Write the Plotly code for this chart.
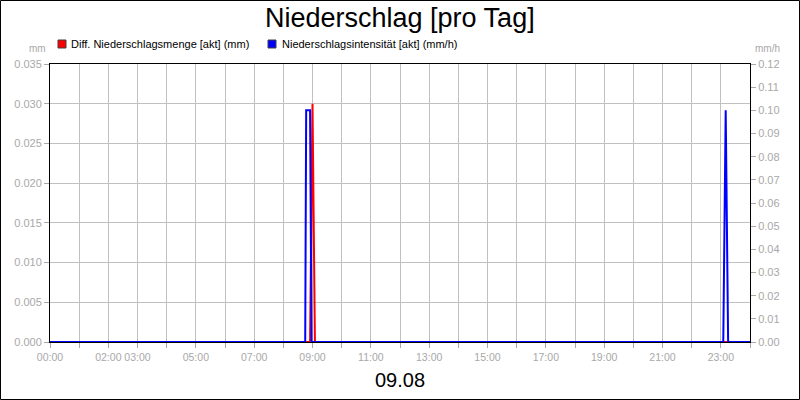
import plotly.graph_objects as go

# Diff. Niederschlagsmenge (mm), left axis
red_times = ["00:00", "08:55", "09:00", "09:05", "24:00"]
red_values = [0, 0, 0.030, 0, 0]

# Niederschlagsintensitaet (mm/h), right axis
blue_times = ["00:00", "08:45", "08:47", "08:55", "08:58", "23:05", "23:10", "23:15", "24:00"]
blue_values = [0, 0, 0.10, 0.10, 0, 0, 0.10, 0, 0]

hour_ticks = list(range(25))
hour_labels = ["00:00", "", "02:00", "03:00", "", "05:00", "", "07:00", "", "09:00", "",
               "11:00", "", "13:00", "", "15:00", "", "17:00", "", "19:00", "", "21:00",
               "", "23:00", ""]

left_ticks = [0, 0.005, 0.010, 0.015, 0.020, 0.025, 0.030, 0.035]
right_ticks = [0, 0.01, 0.02, 0.03, 0.04, 0.05, 0.06, 0.07, 0.08, 0.09, 0.10, 0.11, 0.12]


def to_hours(t):
    h, m = t.split(":")
    return int(h) + int(m) / 60


grey = "#a8a8a8"
font = "Liberation Sans, Arial, sans-serif"

fig = go.Figure()
fig.add_trace(go.Scatter(x=[to_hours(t) for t in blue_times], y=blue_values, yaxis="y2",
                         mode="lines", line=dict(color="#0000ff", width=2),
                         name="Niederschlagsintensität [akt] (mm/h)"))
fig.add_trace(go.Scatter(x=[to_hours(t) for t in red_times], y=red_values,
                         mode="lines", line=dict(color="#ff0000", width=2),
                         name="Diff. Niederschlagsmenge [akt] (mm)"))

fig.update_layout(
    width=800, height=400,
    margin=dict(l=50, r=50, t=64, b=58, autoexpand=False),
    paper_bgcolor="white", plot_bgcolor="white",
    showlegend=False,
    font=dict(family=font, size=11, color=grey),
    xaxis=dict(range=[0, 24], tickvals=hour_ticks, ticktext=hour_labels, tickangle=0,
               automargin=False,
               showgrid=True, gridcolor="#c0c0c0", gridwidth=1,
               showline=True, linecolor="black", linewidth=1, mirror=True,
               ticks="outside", ticklen=5, tickcolor=grey, zeroline=False,
               tickfont=dict(size=10.5, color=grey)),
    yaxis=dict(range=[0, 0.035], tickvals=left_ticks, tickformat=".3f", automargin=False,
               showgrid=True, gridcolor="#c0c0c0", gridwidth=1,
               showline=True, linecolor="black", linewidth=1, mirror=True,
               ticks="outside", ticklen=5, tickcolor=grey, zeroline=False,
               tickfont=dict(size=11, color=grey)),
    yaxis2=dict(range=[0, 0.12], tickvals=right_ticks, tickformat=".2f", automargin=False,
                overlaying="y", side="right", showgrid=False, zeroline=False,
                showline=True, linecolor="black", linewidth=1,
                ticks="outside", ticklen=5, tickcolor=grey,
                tickfont=dict(size=11, color=grey)),
)

px = 1 / 700
py = 1 / 278
annotations = [
    dict(text="Niederschlag [pro Tag]", x=0.5, y=1 + 46 * py, xanchor="center", yanchor="middle",
         font=dict(size=27, color="black", family=font)),
    dict(text="09.08", x=0.5, y=-38 * py, xanchor="center", yanchor="middle",
         font=dict(size=20, color="black", family=font)),
    dict(text="mm", x=-2 * px, y=1 + 15 * py, xanchor="right", yanchor="middle",
         font=dict(size=10, color=grey, family=font)),
    dict(text="mm/h", x=1 + 3 * px, y=1 + 15 * py, xanchor="left", yanchor="middle",
         font=dict(size=10, color=grey, family=font)),
    dict(text="Diff. Niederschlagsmenge [akt] (mm)", x=19 * px, y=1 + 20 * py,
         xanchor="left", yanchor="middle", font=dict(size=11, color="black", family=font)),
    dict(text="Niederschlagsintensität [akt] (mm/h)", x=230 * px, y=1 + 20 * py,
         xanchor="left", yanchor="middle", font=dict(size=11, color="black", family=font)),
]
for a in annotations:
    a.update(xref="paper", yref="paper", showarrow=False)
fig.update_layout(annotations=annotations)

# legend squares
fig.add_shape(type="rect", xref="paper", yref="paper", x0=8 * px, x1=16 * px,
              y0=1 + 16 * py, y1=1 + 24 * py, fillcolor="#ff0000", line=dict(color="#404040", width=1))
fig.add_shape(type="rect", xref="paper", yref="paper", x0=218 * px, x1=226 * px,
              y0=1 + 16 * py, y1=1 + 24 * py, fillcolor="#0000ff", line=dict(color="#404040", width=1))
# outer frame
fig.add_shape(type="rect", xref="paper", yref="paper", x0=-49.5 * px, x1=1 + 49.5 * px,
              y0=-57.5 * py, y1=1 + 63.5 * py, line=dict(color="black", width=1))

fig.write_html("out.html", config={"displayModeBar": False},
               post_script="document.body.style.margin='0';")
